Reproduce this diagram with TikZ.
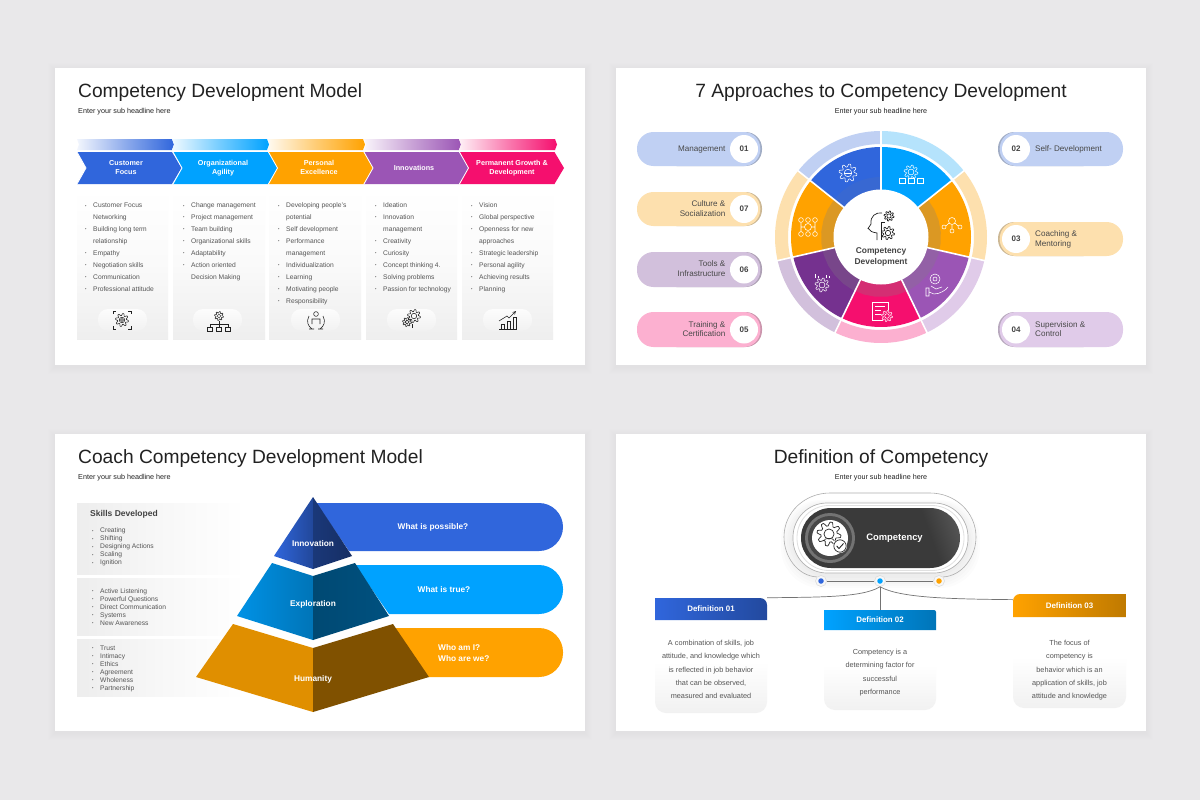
\documentclass[tikz,border=0pt]{standalone}
\usepackage{fontspec}
\setmainfont{Liberation Sans}
\usetikzlibrary{calc}
\definecolor{bgc}{HTML}{E9E8EA}
\definecolor{cblue}{HTML}{3066DC}
\definecolor{ccyan}{HTML}{00A2FF}
\definecolor{camber}{HTML}{FFA200}
\definecolor{cviol}{HTML}{9B55B5}
\definecolor{cpink}{HTML}{F50F6E}
\definecolor{cdvio}{HTML}{75318F}
\definecolor{lblue}{HTML}{C0D0F3}
\definecolor{lcyan}{HTML}{B5E3FC}
\definecolor{lamb}{HTML}{FDE0AE}
\definecolor{lviol}{HTML}{E0CBE9}
\definecolor{lpink}{HTML}{FCB0D0}
\definecolor{ldvio}{HTML}{D2C0DC}
\definecolor{bodyt}{HTML}{555555}
\definecolor{headt}{HTML}{222222}
\definecolor{pilld}{HTML}{3A3A3A}
\definecolor{pilll}{HTML}{6E6E6E}
\pgfdeclarehorizontalshading{pillsh}{100bp}{color(0bp)=(pilld); color(68bp)=(pilld); color(90bp)=(pilll); color(100bp)=(pilld)}
\newcommand\fs[1]{\fontsize{#1}{#1}\selectfont}
\newcommand\bl{\makebox[0pt][r]{\fs{4}\raisebox{.6pt}{•}\hspace{6.6pt}}}
\newcommand\tl[6]{\foreach \ttt [count=\i] in {#6} {\node[#5] (#1\i) at (#2,{#3+#4*(\i-1)}) {\ttt};}}
\newcommand\panel[4]{%
  \foreach \k in {1,...,7} {\fill[black,opacity=.005] ({#1-\k},{#2-\k+2}) rectangle ({#3+\k},{#4+\k+2});}
  \fill[white] (#1,#2) rectangle (#3,#4);}
\newcommand\wseg[5]{\fill[#5] plot[domain=#1:#2,samples=24] ({881+#4*cos(\x)},{237-#4*sin(\x)}) -- plot[domain=#2:#1,samples=24] ({881+#3*cos(\x)},{237-#3*sin(\x)}) -- cycle;}
\newcommand\gearic[5]{% colour, x, y, r, lw
  \draw[#1,line width=#5,line join=round] plot[domain=0:360,samples=65,smooth cycle=false] ({#2+#4*(.84+.16*max(-1,min(1,4*sin(8*\x))))*cos(\x)},{#3+#4*(.84+.16*max(-1,min(1,4*sin(8*\x))))*sin(\x)}) -- cycle;
  \draw[#1,line width=#5] (#2,#3) circle ({#4*.42});
}
\tikzset{
  txt/.style={inner sep=0pt,font=\fs{6.7},text=bodyt},
  bodyl/.style={txt,anchor=base west},
  bodyc/.style={inner sep=0pt,font=\fs{7.3},text=bodyt,anchor=base},
  ttl/.style={inner sep=0pt,font=\fs{19.2},text=headt,anchor=base west},
  ttc/.style={inner sep=0pt,font=\fs{19.2},text=headt,anchor=base},
  subl/.style={inner sep=0pt,font=\fs{7.2},text=headt,anchor=base west},
  subc/.style={inner sep=0pt,font=\fs{7.2},text=headt,anchor=base},
  wb/.style={inner sep=0pt,font=\bfseries\fs{7.2},text=white,anchor=base},
  wbb/.style={inner sep=0pt,font=\bfseries\fs{8.3},text=white,anchor=base},
  pilltxt/.style={inner sep=0pt,font=\fs{8.1},text=bodyt!85!black},
  num/.style={inner sep=0pt,font=\bfseries\fs{8},text=headt!85!white},
  ick/.style={headt,line width=.55pt},
  icw/.style={white,line width=.55pt},
  seam/.style={white,line width=1.6pt},
  link/.style={draw=black!55,line width=.7pt},
  dotring/.style={circle,fill=black!3,draw=black!15,line width=.5pt,minimum size=11pt,inner sep=0pt},
  dotcore/.style={circle,minimum size=5.5pt,inner sep=0pt},
  cardbody/.style={top color=white,bottom color=black!5.5,middle color=white,rounded corners=11pt},
  defh/.style={inner sep=0pt,font=\bfseries\fs{7.9},text=white},
}
\begin{document}
\begin{tikzpicture}[x=1pt,y=-1pt]
\useasboundingbox (0,0) rectangle (1200,800);
\fill[bgc] (0,0) rectangle (1200,800);
\panel{55}{68}{585}{365}
\panel{616}{68}{1146}{365}
\panel{55}{434}{585}{731}
\panel{616}{434}{1146}{731}

%% ---------- panel 1
\node[ttl] (t1) at (78,97.5) {Competency Development Model};
\node[subl] (s1) at (78,113.5) {Enter your sub headline here};
\foreach \xx/\ww/\cc in {77/97/cblue,172/97/ccyan,268/97/camber,364/97/cviol,459/98/cpink}{
  \shade[left color=\cc!6!white,right color=\cc,middle color=\cc!55!white]
    (\xx,139) -- ({\xx+\ww-2},139) -- ({\xx+\ww},144.5) -- ({\xx+\ww-2},150) -- (\xx,150) -- ({\xx+2},144.5) -- cycle;
}
\foreach \xx/\cc in {77/cblue,173/ccyan,268.5/camber,364/cviol,459.5/cpink}{
  \fill[\cc] (\xx,152) -- ({\xx+95},152) -- ({\xx+104.5},168) -- ({\xx+95},184) -- (\xx,184) -- ({\xx+9},168) -- cycle;
  \draw[white,line width=.8pt] (\xx,152) -- ({\xx+9},168) -- (\xx,184);
}
\tl{ca}{126}{165.5}{9.2}{wb}{Customer,Focus}
\tl{cb}{223}{165.5}{9.2}{wb}{Organizational,Agility}
\tl{cc}{319}{165.5}{9.2}{wb}{Personal,Excellence}
\node[wb] (cd) at (414,170.5) {Innovations};
\tl{ce}{512}{165.5}{9.2}{wb}{Permanent Growth \&,Development}
\foreach \xa/\xb in {77/168,173/265,269/361,366/457,462/553}{
  \shade[top color=white,bottom color=black!6.5,middle color=black!2] (\xa,188) rectangle (\xb,339);
}
\foreach \xa in {98,193,291,387,483}{
  \shade[top color=black!1,bottom color=black!5.5,rounded corners=10pt] (\xa,309) rectangle ({\xa+49},331);
}
\tl{la}{93}{207.6}{11.93}{bodyl}{\bl Customer Focus,Networking,\bl Building long term,relationship,\bl Empathy,\bl Negotiation skills,\bl Communication,\bl Professional attitude}
\tl{lb}{191}{207.6}{11.93}{bodyl}{\bl Change management,\bl Project management,\bl Team building,\bl Organizational skills,\bl Adaptability,\bl Action oriented,Decision Making}
\tl{lc}{286}{207.6}{11.93}{bodyl}{\bl Developing people's,potential,\bl Self development,\bl Performance,management,\bl Individualization,\bl Learning,\bl Motivating people,\bl Responsibility}
\tl{ld}{383}{207.6}{11.93}{bodyl}{\bl Ideation,\bl Innovation,management,\bl Creativity,\bl Curiosity,\bl Concept thinking 4.,\bl Solving problems,\bl Passion for technology}
\tl{le}{479}{207.6}{11.93}{bodyl}{\bl Vision,\bl Global perspective,\bl Openness for new,approaches,\bl Strategic leadership,\bl Personal agility,\bl Achieving results,\bl Planning}
% panel 1 icons
\gearic{ick}{122}{320}{6.5}{.55pt}
\draw[ick] (122,320) circle (1.4);
\foreach \sx/\sy in {-1/-1,1/-1,-1/1,1/1}{\draw[ick] ({122+\sx*9},{320+\sy*6}) -- ({122+\sx*9},{320+\sy*9}) -- ({122+\sx*6},{320+\sy*9});}
\gearic{ick}{219}{316}{4.5}{.5pt}
\draw[ick] (219,320.5) -- (219,324) (210,327) -- (210,324) -- (228,324) -- (228,327) (219,324) -- (219,327);
\foreach \xx in {210,219,228}{\draw[ick] ({\xx-2.5},327) rectangle ({\xx+2.5},331);}
\draw[ick] (316,314) circle (2.4) (312,324) -- (312,319) -- (320,319) -- (320,324);
\draw[ick] (309,316) .. controls (306,322) and (308,326) .. (312,329) (323,316) .. controls (326,322) and (324,326) .. (320,329) (309,329) -- (314,329) (318,329) -- (323,329);
\gearic{ick}{414}{316}{6.5}{.55pt}
\gearic{ick}{407}{322}{4.5}{.55pt}
\draw[ick] (412,324) -- (412,328);
\draw[ick] (499,329) -- (517,329);
\foreach \xx/\yy in {501/324,507/321,513/317}{\draw[ick] (\xx,329) rectangle ({\xx+3.6},\yy);}
\draw[ick,->,>=stealth] (499,321) -- (507,316) -- (509,318) -- (516,311);

%% ---------- panel 2
\node[ttc] (t2) at (881,97.5) {7 Approaches to Competency Development};
\node[subc] (s2) at (881,113.5) {Enter your sub headline here};
\foreach \pa/\pb/\ci/\co in {38.57/90/ccyan/lcyan,-12.86/38.57/camber/lamb,-64.29/-12.86/cviol/lviol,-115.71/-64.29/cpink/lpink,-167.14/-115.71/cdvio/ldvio,-218.57/-167.14/camber/lamb,-270/-218.57/cblue/lblue}{
  \wseg{\pa}{\pb}{93}{106}{\co}
  \wseg{\pa}{\pb}{40}{90}{\ci}
}
\wseg{-218.57}{38.57}{46}{60}{black!50,opacity=.28}
\wseg{-270}{-218.57}{46}{60}{black!50,opacity=.1}
\foreach \pa in {90,38.57,-12.86,-64.29,-115.71,-167.14,-218.57}{
  \draw[seam] ($(881,237)+({-\pa}:45)$) -- ($(881,237)+({-\pa}:108)$);
}
\node[circle,fill=white,minimum size=95pt,inner sep=0pt] (hub) at (881,237) {};
\tl{hubt}{881}{253.5}{10.6}{inner sep=0pt,font=\bfseries\fs{8.4},text=headt!85!white,anchor=base}{Competency,Development}
% hub icon
\draw[headt,line width=.7pt] (877,240) -- (877,233) .. controls (871,232) and (870,231) .. (869,229) -- (868,228.5) -- (871,224) .. controls (870,216) and (876,212) .. (882,213);
\draw[headt,line width=.7pt] (881,240) -- (881,222) -- (885,222);
\gearic{headt}{889}{216}{5}{.7pt}
\gearic{headt}{888}{233}{6.5}{.7pt}
% wheel icons
\gearic{icw}{848}{173}{9}{.55pt}
\draw[icw] (844,173) -- (852,173);
\gearic{icw}{911}{172}{7}{.55pt}
\draw[icw] (899,178) rectangle (905,183) (908,178) rectangle (914,183) (917,178) rectangle (923,183);
\draw[icw] (952,221) circle (3.5) (944,227) circle (2) (960,227) circle (2) (952,231) circle (2);
\draw[icw] (949,223) -- (946,226) (955,223) -- (958,226) (952,224.5) -- (952,229);
\foreach \xx/\yy in {801/220,808/220,815/220,801/234,808/234,815/234}{\draw[icw] (\xx,\yy) circle (2.4);}
\draw[icw] (808,227) circle (3.5) (801,222.4) -- (801,232) (815,222.4) -- (815,232) (801,227) -- (804.5,227) (811.5,227) -- (815,227);
\draw[icw] (935,279) circle (5) (935,279) circle (2) (929,292) -- (934,294) .. controls (940,294) and (946,290) .. (948,287) (929,288) rectangle (926,296) (931,286) -- (936,289) -- (942,287);
\draw[icw] (872,302) rectangle (888,320);
\draw[icw] (875,306) -- (885,306) (875,310) -- (881,310) (875,314) -- (881,314);
\fill[cpink] (887,316) circle (6);
\gearic{icw}{887}{316}{5.5}{.55pt}
\gearic{icw}{822}{285}{7}{.55pt}
\draw[icw] (815,278) -- (815,274) (818,278) -- (818,276) (826,278) -- (826,275) (829,278) -- (829,276);
% pills left
\foreach \yy/\hh/\cc/\nm/\lbl in {132/34/lblue/01/{Management},192/34/lamb/07/{Culture \&},252/35/ldvio/06/{Tools \&},312/35/lpink/05/{Training \&}}{
  \fill[\cc!78!black!90!white,rounded corners=16.5pt] (660,\yy) rectangle (762,{\yy+\hh});
  \fill[\cc,rounded corners=16.5pt] (637,\yy) rectangle (760.3,{\yy+\hh});
  \fill[white] (744,{\yy+\hh/2}) circle (14);
}
\node[pilltxt,anchor=base east] (pl1) at (725.5,151.5) {Management};
\node[num] (pn1) at (744,149) {01};
\node[pilltxt,anchor=base east] (pl2a) at (725.5,206.5) {Culture \&};
\node[pilltxt,anchor=base east] (pl2b) at (725.5,216.3) {Socialization};
\node[num] (pn2) at (744,209) {07};
\node[pilltxt,anchor=base east] (pl3a) at (725.5,266.7) {Tools \&};
\node[pilltxt,anchor=base east] (pl3b) at (725.5,276.5) {Infrastructure};
\node[num] (pn3) at (744,269.5) {06};
\node[pilltxt,anchor=base east] (pl4a) at (725.5,327) {Training \&};
\node[pilltxt,anchor=base east] (pl4b) at (725.5,336.8) {Certification};
\node[num] (pn4) at (744,329.5) {05};
% pills right
\foreach \yy/\hh/\cc in {132/34/lblue,222/34/lamb,312/35/lviol}{
  \fill[\cc!78!black!90!white,rounded corners=16.5pt] (998,\yy) rectangle (1100,{\yy+\hh});
  \fill[\cc,rounded corners=16.5pt] (999.7,\yy) rectangle (1123,{\yy+\hh});
  \fill[white] (1016,{\yy+\hh/2}) circle (14);
}
\node[pilltxt,anchor=base west] (pr1) at (1035,151.5) {Self- Development};
\node[num] (qn1) at (1016,149) {02};
\node[pilltxt,anchor=base west] (pr2a) at (1035,236.5) {Coaching \&};
\node[pilltxt,anchor=base west] (pr2b) at (1035,246.3) {Mentoring};
\node[num] (qn2) at (1016,239) {03};
\node[pilltxt,anchor=base west] (pr3a) at (1035,327) {Supervision \&};
\node[pilltxt,anchor=base west] (pr3b) at (1035,336.8) {Control};
\node[num] (qn3) at (1016,329.5) {04};

%% ---------- panel 3
\node[ttl] (t3) at (78,463.5) {Coach Competency Development Model};
\node[subl] (s3) at (78,479.5) {Enter your sub headline here};
\foreach \ya/\yb in {503/574,578/635,639/696}{
  \shade[left color=black!7,right color=white,middle color=black!3] (77,\ya) rectangle (245,\yb);
}
\node[inner sep=0pt,font=\bfseries\fs{8.5},text=headt!85!white,anchor=base west] (sk) at (90,516) {Skills Developed};
\tl{pa}{100}{532.8}{7.95}{bodyl}{\bl Creating,\bl Shifting,\bl Designing Actions,\bl Scaling,\bl Ignition}
\tl{pb}{100}{593}{8}{bodyl}{\bl Active Listening,\bl Powerful Questions,\bl Direct Communication,\bl Systems,\bl New Awareness}
\tl{pc}{100}{650}{8}{bodyl}{\bl Trust,\bl Intimacy,\bl Ethics,\bl Agreement,\bl Wholeness,\bl Partnership}
\fill[cblue] (316,503) [rounded corners=24pt] -- (563,503) -- (563,551) [sharp corners] -- (349,551) -- cycle;
\fill[ccyan] (355,565) [rounded corners=24pt] -- (563,565) -- (563,614) [sharp corners] -- (389,614) -- cycle;
\fill[camber] (395,628) [rounded corners=24pt] -- (563,628) -- (563,677) [sharp corners] -- (428,677) -- cycle;
\shade[left color=cblue,right color=cblue!70!black] (313,497) -- (274,556) -- (313,569) -- cycle;
\shade[left color=cblue!55!black,right color=cblue!45!black] (313,497) -- (352,556) -- (313,569) -- cycle;
\shade[left color=ccyan!90!black,right color=ccyan!72!black] (272,563) -- (237,616) -- (313,640) -- (313,576) -- cycle;
\shade[left color=ccyan!45!black,right color=ccyan!50!black] (355,563) -- (389,616) -- (313,640) -- (313,576) -- cycle;
\fill[camber!88!black] (233,624) -- (196,677) -- (313,712) -- (313,648) -- cycle;
\fill[camber!50!black] (393,624) -- (429,677) -- (313,712) -- (313,648) -- cycle;
\node[wbb] (py1) at (313,546.9) {Innovation};
\node[wbb] (py2) at (313,606.9) {Exploration};
\node[wbb] (py3) at (313,681.9) {Humanity};
\node[wbb] (q1) at (433,529.9) {What is possible?};
\node[wbb] (q2) at (444,592.9) {What is true?};
\node[wbb,anchor=base west] (q3a) at (438,650.9) {Who am I?};
\node[wbb,anchor=base west] (q3b) at (438,661.4) {Who are we?};

%% ---------- panel 4
\node[ttc] (t4) at (881,463.5) {Definition of Competency};
\node[subc] (s4) at (881,479.5) {Enter your sub headline here};
% soft glow
\foreach \k in {1,...,6}{\fill[black,opacity=.012,rounded corners=40pt] ({793-\k*2},{506-\k}) rectangle ({968+\k*2},{576+\k*2});}
% dots
\node[dotring] (d1o) at (821,581) {};
\node[dotring] (d2o) at (880,581) {};
\node[dotring] (d3o) at (939,581) {};
\draw[link] (d1o) -- (d2o);
\draw[link] (d2o) -- (d3o);
\draw[draw=black!32,line width=.6pt] (d1o.north west) .. controls (798,576) and (784,557) .. (784,537) .. controls (784,512) and (805,493) .. (830,493) -- (930,493) .. controls (955,493) and (976,512) .. (976,537) .. controls (976,557) and (962,576) .. (d3o.north east);
\fill[white,rounded corners=34pt] (793,503) rectangle (968,573);
\draw[black!30,line width=.7pt,rounded corners=34pt] (793,503) rectangle (968,573);
\draw[black!12,line width=.8pt,rounded corners=32pt] (797,505.5) rectangle (964,570.5);
\shade[shading=pillsh,shading angle=20,rounded corners=30pt] (801,508) rectangle (960,568);
\fill[black!55] (830,538) circle (25);
\fill[black!72] (830,538) circle (22);
\fill[white] (830,538) circle (18);
\gearic{black!85}{829}{534}{12}{.7pt}
\draw[black!85,line width=.6pt] (823.5,541) .. controls (824,537.5) and (834,537.5) .. (834.5,541);
\fill[white] (840,546) circle (7);
\draw[black!85,line width=.7pt] (840,546) circle (6.2);
\draw[black!85,line width=.9pt] (836.7,546) -- (839,548.5) -- (843.5,543.5);
\node[inner sep=0pt,font=\bfseries\fs{9.4},text=white] (capt) at (894.5,538) {Competency};
\node[dotcore,fill=cblue] (d1) at (d1o) {};
\node[dotcore,fill=ccyan] (d2) at (d2o) {};
\node[dotcore,fill=camber] (d3) at (d3o) {};
% cards
\shade[cardbody] (655,610) rectangle (767,713);
\shade[cardbody] (824,620) rectangle (936,710);
\shade[cardbody] (1013,605) rectangle (1126,708);
\shade[left color=cblue,right color=cblue!72!black] (655,620) -- (655,598) [rounded corners=7pt] -- (767,598) [sharp corners] -- (767,620) -- cycle;
\shade[left color=ccyan,right color=ccyan!72!black] (824,630) -- (824,610) [rounded corners=2pt] -- (936,610) [sharp corners] -- (936,630) -- cycle;
\shade[left color=camber,right color=camber!75!black] (1126,617) -- (1126,594) [rounded corners=7pt] -- (1013,594) [sharp corners] -- (1013,617) -- cycle;
\node[defh,minimum width=112pt,minimum height=22pt] (h1) at (711,609) {Definition 01};
\node[defh,minimum width=112pt,minimum height=20pt] (h2) at (880,620) {Definition 02};
\node[defh,minimum width=113pt,minimum height=23pt] (h3) at (1069.5,605.5) {Definition 03};
\draw[link] (d2o.south) .. controls (862,598) and (815,597) .. (h1.north east);
\draw[link] (d2o.south) -- (h2.north);
\draw[link] (d2o.south) .. controls (900,598) and (950,599) .. ($(h3.north west)!.25!(h3.south west)$);
\tl{da}{711}{645.6}{13.2}{bodyc}{{A combination of skills, job},{attitude, and knowledge which},is reflected in job behavior,{that can be observed,},measured and evaluated}
\tl{db}{880}{654.6}{13.3}{bodyc}{Competency is a,determining factor for,successful,performance}
\tl{dc}{1069.5}{645.6}{13.2}{bodyc}{The focus of,competency is,behavior which is an,{application of skills, job},attitude and knowledge}
\end{tikzpicture}
\end{document}
